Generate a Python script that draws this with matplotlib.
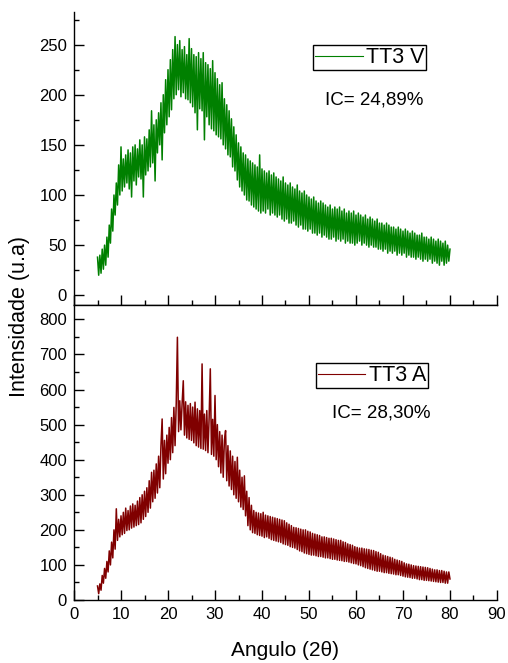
import numpy as np
import matplotlib.pyplot as plt

plt.rcParams['font.family'] = ['Liberation Sans', 'DejaVu Sans']

# diffractograms, 2theta from 5 to 80 deg in 0.25 deg steps
tt3_v = [38, 20, 40, 22, 46, 26, 50, 30, 58, 38, 70, 52, 86, 64, 100, 80, 112, 90, 130, 100,
         148, 104, 136, 108, 140, 112, 145, 106, 142, 98, 148, 114, 150, 110, 146, 118, 155, 116, 150, 98,
         158, 120, 156, 124, 165, 128, 184, 132, 170, 114, 175, 142, 182, 150, 192, 135, 200, 162, 215, 170,
         225, 178, 235, 185, 245, 196, 258, 200, 250, 205, 254, 198, 245, 202, 248, 196, 240, 195, 256, 192,
         246, 188, 240, 182, 238, 165, 242, 186, 236, 184, 242, 155, 232, 178, 230, 170, 226, 166, 234, 164,
         222, 160, 216, 158, 210, 156, 212, 150, 196, 146, 190, 140, 184, 138, 176, 128, 168, 124, 160, 115,
         152, 108, 148, 104, 142, 100, 140, 95, 136, 94, 134, 90, 132, 88, 130, 86, 128, 84, 140, 82,
         126, 84, 124, 82, 122, 86, 124, 80, 120, 82, 122, 80, 118, 78, 116, 80, 114, 76, 118, 74,
         112, 76, 110, 72, 112, 72, 108, 74, 106, 70, 110, 68, 104, 70, 102, 66, 104, 66, 100, 64,
         98, 66, 96, 62, 98, 62, 94, 60, 92, 62, 94, 58, 92, 60, 90, 58, 88, 56, 90, 56,
         86, 58, 88, 54, 86, 56, 88, 54, 84, 56, 86, 52, 82, 54, 84, 52, 82, 52, 84, 50,
         80, 52, 82, 54, 80, 50, 78, 52, 80, 50, 76, 48, 78, 50, 76, 48, 74, 48, 76, 46,
         72, 46, 72, 44, 70, 46, 72, 42, 70, 44, 68, 42, 68, 44, 66, 40, 68, 42, 66, 40,
         64, 42, 66, 38, 64, 40, 62, 38, 64, 38, 62, 36, 60, 38, 60, 36, 62, 34, 58, 36,
         58, 34, 56, 36, 58, 32, 56, 34, 54, 32, 56, 30, 54, 34, 52, 30, 54, 32, 50, 34,
         46]

tt3_a = [40, 18, 46, 28, 70, 48, 90, 62, 110, 80, 140, 100, 165, 120, 200, 145, 260, 170, 230, 180,
         240, 186, 250, 190, 262, 198, 255, 200, 268, 205, 274, 208, 270, 212, 282, 215, 292, 220, 300, 230,
         310, 238, 320, 250, 340, 262, 364, 280, 370, 290, 388, 305, 410, 320, 440, 516, 345, 455, 360, 470,
         390, 492, 400, 520, 420, 549, 440, 560, 749, 480, 568, 485, 560, 625, 470, 565, 462, 555, 458, 560,
         455, 550, 448, 564, 440, 545, 436, 540, 432, 673, 430, 530, 426, 540, 420, 520, 659, 415, 515, 410,
         583, 400, 500, 380, 480, 362, 470, 350, 455, 483, 340, 440, 325, 425, 315, 410, 300, 395, 290, 407,
         280, 370, 265, 350, 258, 354, 240, 310, 212, 292, 200, 270, 192, 255, 190, 250, 186, 248, 184, 246,
         182, 250, 178, 242, 180, 240, 176, 238, 172, 236, 170, 234, 168, 232, 166, 230, 164, 228, 160, 226,
         158, 220, 156, 216, 152, 212, 150, 207, 148, 206, 144, 204, 140, 202, 138, 200, 134, 200, 132, 196,
         130, 194, 128, 190, 128, 188, 126, 186, 124, 184, 124, 180, 122, 180, 120, 178, 120, 176, 118, 176,
         116, 174, 116, 172, 114, 170, 113, 170, 112, 166, 110, 164, 110, 160, 108, 158, 106, 156, 104, 152,
         103, 150, 100, 148, 98, 148, 95, 146, 92, 145, 90, 144, 88, 142, 86, 141, 84, 138, 82, 136,
         82, 132, 80, 128, 78, 126, 78, 124, 76, 122, 75, 120, 74, 116, 72, 114, 72, 112, 70, 110,
         68, 106, 66, 103, 65, 102, 64, 100, 62, 98, 62, 97, 60, 96, 58, 95, 58, 94, 56, 93,
         56, 92, 55, 90, 54, 88, 53, 86, 52, 86, 51, 84, 50, 84, 50, 82, 48, 80, 48, 80,
         60]

two_theta = np.linspace(5, 80, len(tt3_v))

fig = plt.figure(figsize=(5.08, 6.63), dpi=100)
ax1 = fig.add_axes([0.1457, 0.540, 0.8326, 0.442])
ax2 = fig.add_axes([0.1457, 0.095, 0.8326, 0.445])

ax1.plot(two_theta, tt3_v, color='#008000', lw=1.1, label='TT3 V')
ax2.plot(two_theta, tt3_a, color='#800000', lw=1.1, label='TT3 A')

ax1.set_ylim(-9.7, 282.6)
ax1.set_yticks(np.arange(0, 251, 50))
ax1.set_yticks(np.arange(0, 276, 25), minor=True)
ax2.set_ylim(0, 841)
ax2.set_yticks(np.arange(0, 801, 100))
ax2.set_yticks(np.arange(0, 841, 50), minor=True)

for ax in (ax1, ax2):
    ax.set_xlim(0, 90)
    ax.set_xticks(np.arange(0, 91, 10))
    ax.set_xticks(np.arange(0, 91, 5), minor=True)
    ax.spines['right'].set_visible(False)
    for s in ax.spines.values():
        s.set_linewidth(1.0)
    ax.tick_params(which='major', direction='in', length=7.5, width=1.0,
                   labelsize=12, pad=5)
    ax.tick_params(which='minor', direction='in', length=3.5, width=1.0)

ax1.spines['top'].set_visible(False)
ax1.tick_params(axis='x', labelbottom=False)

for ax, anchor in ((ax1, (0.565, 0.887)), (ax2, (0.572, 0.803))):
    leg = ax.legend(loc='upper left', bbox_to_anchor=anchor, borderaxespad=0,
                    fontsize=15.5, fancybox=False, framealpha=1, edgecolor='black',
                    handlelength=2.2, handletextpad=0.15, borderpad=0.1)
    leg.get_frame().set_linewidth(1.0)
    for line in leg.get_lines():
        line.set_linewidth(0.8)

ax1.text(0.71, 0.70, 'IC= 24,89%', transform=ax1.transAxes,
         ha='center', va='center', fontsize=13.5)
ax2.text(0.726, 0.633, 'IC= 28,30%', transform=ax2.transAxes,
         ha='center', va='center', fontsize=13.5)

fig.text(0.562, 1 - 650 / 663, 'Angulo (2θ)', ha='center', va='center', fontsize=15)
fig.text(20 / 508, 1 - 316 / 663, 'Intensidade (u.a)', ha='center', va='center',
         rotation=90, fontsize=15.5)

fig.savefig('out.png', dpi=100)
